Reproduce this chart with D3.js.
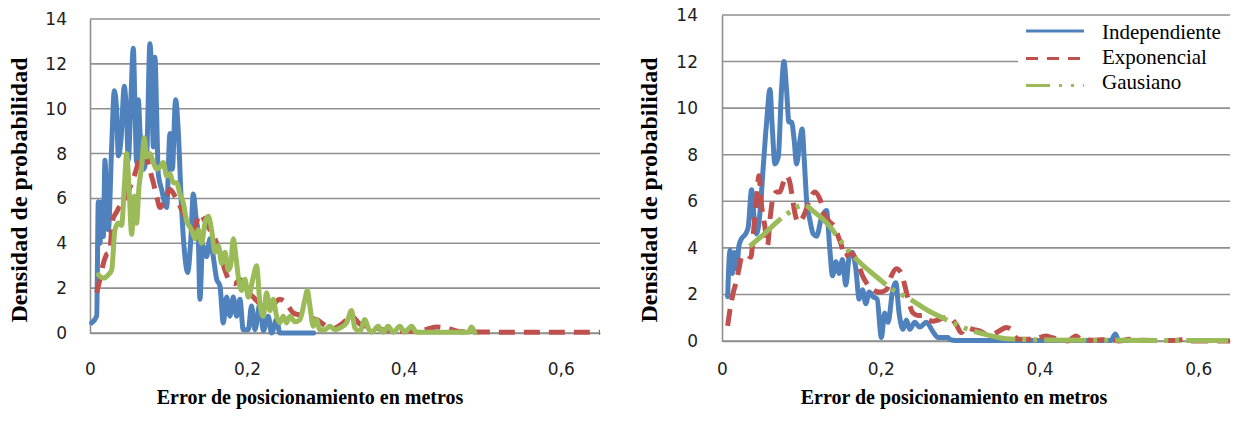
<!DOCTYPE html>
<html>
<head>
<meta charset="utf-8">
<script src="https://cdn.jsdelivr.net/npm/d3@7"></script>
<style>
  body { margin: 0; background: #fff; }
  svg { display: block; }
</style>
</head>
<body>
<svg id="chart" width="1255" height="421"></svg>
<script>
// ticks
const yTicks = [0, 2, 4, 6, 8, 10, 12, 14];
const xTicks = [0, 0.2, 0.4, 0.6];
const xTickLabels = ['0', '0,2', '0,4', '0,6'];

const seriesNames = ['Independiente', 'Exponencial', 'Gausiano'];
const yTitle = 'Densidad de probabilidad';
const xTitle = 'Error de posicionamiento en metros';

// left panel  [error (m), densidad]
const izqIndependiente = [[0.002,0.45],[0.0085,0.75],[0.0106,5.85],[0.0127,4.0],[0.0149,5.85],[0.017,4.3],[0.0191,7.7],[0.0212,5.8],[0.0234,4.6],[0.0276,8.3],[0.031,10.8],[0.034,9.9],[0.0361,7.9],[0.0395,8.6],[0.0437,11.0],[0.0467,9.6],[0.0488,7.7],[0.0522,10.5],[0.0552,12.7],[0.0573,10.1],[0.0594,7.6],[0.0616,10.4],[0.0637,9.0],[0.0679,7.3],[0.0722,7.9],[0.0764,12.9],[0.0786,11.3],[0.0807,8.3],[0.0828,12.3],[0.0849,9.8],[0.087,7.1],[0.0913,6.4],[0.0977,5.6],[0.1019,8.9],[0.1049,7.3],[0.1091,10.4],[0.1125,9.0],[0.1168,5.5],[0.121,3.4],[0.1244,2.7],[0.1287,4.3],[0.1316,6.2],[0.135,5.2],[0.138,4.3],[0.1401,1.5],[0.1435,3.9],[0.1486,3.4],[0.1529,4.2],[0.1571,3.4],[0.1614,2.4],[0.1656,2.1],[0.1699,0.45],[0.1741,1.6],[0.1783,0.75],[0.1826,1.6],[0.1868,0.75],[0.1911,1.5],[0.1953,0.15],[0.2017,0.15],[0.2059,1.2],[0.2102,0.15],[0.2166,1.3],[0.2208,0.1],[0.2272,0.75],[0.2314,0],[0.2378,0.6],[0.242,0],[0.285,0]];
const izqExponencial = [[0.0085,1.8],[0.0127,2.4],[0.017,3.1],[0.0212,3.5],[0.025,3.6],[0.0285,5.0],[0.034,5.4],[0.0403,5.8],[0.0467,6.1],[0.051,6.5],[0.0573,7.1],[0.0616,7.6],[0.0679,8.1],[0.0722,7.85],[0.0764,7.26],[0.0807,6.7],[0.0849,6.1],[0.0892,5.6],[0.0955,5.9],[0.1019,6.4],[0.1083,6.1],[0.1168,5.5],[0.1253,4.9],[0.1316,4.6],[0.1401,5.3],[0.1465,5.0],[0.1529,4.6],[0.1592,4.2],[0.1656,3.6],[0.172,2.8],[0.1783,2.3],[0.1847,2.2],[0.1911,2.4],[0.1996,1.9],[0.2081,1.6],[0.2166,1.3],[0.2251,1.2],[0.2335,1.3],[0.242,1.5],[0.2505,1.3],[0.259,0.9],[0.2675,0.8],[0.276,0.7],[0.2887,0.6],[0.3015,0.3],[0.31,0.2],[0.3227,0.45],[0.3333,0.75],[0.3439,0.4],[0.3567,0.27],[0.3737,0.15],[0.3949,0.08],[0.4119,0.08],[0.4246,0.12],[0.4416,0.27],[0.4586,0.18],[0.4713,0.06],[0.4883,0.05],[0.55,0.03],[0.65,0.03]];
const izqGausiano = [[0.0106,2.6],[0.017,2.45],[0.0234,2.6],[0.0276,2.8],[0.0318,4.6],[0.0361,4.9],[0.0403,4.8],[0.0437,6.5],[0.0467,8.0],[0.0497,6.5],[0.0531,4.4],[0.0565,6.1],[0.0594,4.9],[0.0624,6.5],[0.0658,7.4],[0.0692,8.7],[0.0722,7.85],[0.0764,8.0],[0.0807,7.6],[0.0849,7.3],[0.0892,7.4],[0.0934,7.6],[0.0977,7.0],[0.1019,7.1],[0.1062,6.7],[0.1104,6.7],[0.1147,6.2],[0.1189,5.8],[0.1231,5.0],[0.1295,4.6],[0.1338,4.2],[0.138,4.6],[0.1423,4.0],[0.1465,4.9],[0.1507,5.2],[0.155,4.6],[0.1592,3.6],[0.1635,3.9],[0.1677,3.1],[0.172,3.6],[0.1762,2.8],[0.1792,3.0],[0.1826,4.2],[0.186,3.4],[0.189,2.5],[0.1932,1.9],[0.1975,2.4],[0.2017,1.6],[0.2081,2.5],[0.2123,3.0],[0.2166,1.3],[0.2208,0.75],[0.2251,1.8],[0.2293,1.0],[0.2335,1.5],[0.2378,0.75],[0.242,0.45],[0.2463,0.75],[0.2505,0.45],[0.2548,0.75],[0.2611,0.5],[0.2675,0.6],[0.2739,1.5],[0.277,1.9],[0.2803,1.2],[0.2845,0.3],[0.2887,0.6],[0.293,0.15],[0.2994,0.15],[0.3057,0.3],[0.3121,0.15],[0.3185,0.22],[0.327,0.45],[0.3333,1.0],[0.3376,0.22],[0.3439,0.08],[0.3503,0.6],[0.3546,0.22],[0.3588,0.03],[0.3673,0.3],[0.3737,0.03],[0.38,0.3],[0.3864,0.03],[0.3949,0.3],[0.4013,0.03],[0.4098,0.3],[0.4161,0.03],[0.482,0.03],[0.4862,0.27],[0.4904,0.03]];

// right panel
const derIndependiente = [[0.0071,1.9],[0.0101,3.9],[0.013,2.9],[0.0155,3.8],[0.0184,3.1],[0.0214,4.1],[0.0247,4.4],[0.0298,4.6],[0.0331,4.9],[0.0373,6.5],[0.0407,5.2],[0.0436,4.6],[0.0478,5.5],[0.052,7.5],[0.0562,9.4],[0.0604,10.8],[0.0633,9.2],[0.0667,7.6],[0.0709,7.9],[0.075,10.8],[0.078,12.0],[0.0813,10.8],[0.0843,9.4],[0.0876,9.4],[0.091,8.6],[0.0939,7.6],[0.0981,8.6],[0.101,9.1],[0.1036,7.8],[0.1065,6.1],[0.1107,5.2],[0.1149,4.6],[0.1191,4.5],[0.1254,5.3],[0.1317,5.6],[0.1359,3.9],[0.1392,2.8],[0.1434,3.4],[0.1476,2.9],[0.1518,3.5],[0.156,2.4],[0.1602,3.6],[0.1644,3.8],[0.1686,3.1],[0.1728,1.8],[0.177,2.2],[0.1812,1.6],[0.1854,2.1],[0.1904,1.9],[0.1954,1.8],[0.2008,0.15],[0.205,1.2],[0.2092,0.8],[0.2147,2.1],[0.2189,2.5],[0.2231,1.2],[0.2281,0.5],[0.2323,0.9],[0.2365,0.5],[0.2428,0.8],[0.2491,0.6],[0.2574,0.8],[0.2658,0.4],[0.2721,0.15],[0.2847,0.15],[0.2868,0.07],[0.295,0.02],[0.49,0.02],[0.4955,0.3],[0.5,0.02],[0.51,0.02]];
const derExponencial = [[0.0071,0.65],[0.0101,1.35],[0.0143,2.1],[0.0184,2.6],[0.0214,3.1],[0.0247,3.6],[0.031,3.7],[0.0365,3.6],[0.0394,4.6],[0.0436,6.1],[0.0465,7.1],[0.0499,5.8],[0.0541,4.9],[0.0574,4.1],[0.0604,5.2],[0.0646,6.2],[0.0688,6.4],[0.073,6.4],[0.0772,6.8],[0.0813,7.1],[0.0855,6.8],[0.0885,6.2],[0.0918,5.5],[0.096,5.1],[0.1002,5.2],[0.1044,5.5],[0.1107,6.1],[0.117,6.4],[0.1233,6.1],[0.1296,5.4],[0.1359,5.1],[0.1421,4.9],[0.1463,4.5],[0.1505,4.1],[0.1547,3.6],[0.161,3.8],[0.1673,3.6],[0.1728,3.2],[0.177,2.8],[0.182,2.5],[0.1904,2.2],[0.1988,2.1],[0.2071,2.2],[0.2134,2.8],[0.2197,3.1],[0.226,2.9],[0.2302,2.4],[0.2344,1.8],[0.2407,1.2],[0.2469,1.1],[0.2532,1.1],[0.2595,0.9],[0.2658,0.85],[0.2721,0.9],[0.2805,1.0],[0.2868,1.0],[0.2952,0.7],[0.3014,0.36],[0.3077,0.58],[0.3161,0.5],[0.3245,0.44],[0.3329,0.3],[0.3413,0.3],[0.3497,0.44],[0.3581,0.58],[0.3643,0.5],[0.3685,0.22],[0.3748,0.07],[0.3916,0.07],[0.4084,0.22],[0.4147,0.15],[0.4252,0.07],[0.4357,0.0],[0.4461,0.22],[0.4524,0.07],[0.4713,0.03],[0.4839,0.07],[0.5006,0.0],[0.5132,0.07],[0.5216,0.03],[0.5677,0.02],[0.5845,0.07],[0.5929,0.0],[0.64,0.0]];
const derGausiano = [[0.035,4.07],[0.05,4.5],[0.065,4.98],[0.075,5.28],[0.088,5.6],[0.096,5.78],[0.104,5.84],[0.114,5.6],[0.125,5.3],[0.135,4.95],[0.148,4.36],[0.16,3.85],[0.174,3.36],[0.195,2.75],[0.215,2.2],[0.234,1.86],[0.26,1.3],[0.287,0.85],[0.31,0.5],[0.33,0.3],[0.358,0.1],[0.4,0.05],[0.5,0.03],[0.64,0.02]];

const colors = ['#4f81bd', '#c0504d', '#9bbb59'];
const gridColor = '#8f8f8f';

const svg = d3.select('#chart');
svg.append('rect').attr('width', 1255).attr('height', 421).attr('fill', '#fff');

function drawPanel(p) {
    const x = d3.scaleLinear().domain([0, p.xMax]).range([p.left, p.right]);
    const y = d3.scaleLinear().domain([0, 14]).range([p.bottom, p.top]);
    const g = svg.append('g');

    // horizontal grid
    g.selectAll('.grid')
        .data(yTicks)
        .join('line')
        .attr('class', 'grid')
        .attr('x1', p.left).attr('x2', p.right)
        .attr('y1', d => y(d)).attr('y2', d => y(d))
        .attr('stroke', gridColor)
        .attr('stroke-width', 1.6);

    const yAxis = g.append('g')
        .attr('transform', `translate(${p.left},0)`)
        .call(d3.axisLeft(y).tickValues(yTicks).tickSize(0).tickSizeOuter(0).tickPadding(p.left - p.yLabelRight));
    const xAxis = g.append('g')
        .attr('transform', `translate(0,${p.bottom})`)
        .call(d3.axisBottom(x).tickValues(xTicks).tickFormat((d, i) => xTickLabels[i])
            .tickSize(0).tickSizeOuter(0).tickPadding(p.xLabelPad));

    [yAxis, xAxis].forEach(a => {
        a.select('.domain').attr('stroke', gridColor).attr('stroke-width', 1.6);
        a.selectAll('text')
            .attr('fill', '#1e1e1e')
            .style('font-family', '"DejaVu Sans", sans-serif')
            .style('font-size', '17px');
    });

    if (p.legend) {
        g.append('rect')
            .attr('x', 1018).attr('y', 21)
            .attr('width', 214).attr('height', 75)
            .attr('fill', '#fff');
    }

    const line = d3.line()
        .x(d => x(d[0]))
        .y(d => y(d[1]))
        .curve(d3.curveMonotoneX);

    p.series.forEach((s, i) => {
        g.append('path')
            .datum(s)
            .attr('d', line)
            .attr('fill', 'none')
            .attr('stroke', colors[i])
            .attr('stroke-width', 5)
            .attr('stroke-linejoin', 'round')
            .attr('stroke-linecap', p.dashes[i] ? 'butt' : 'round')
            .attr('stroke-dasharray', p.dashes[i]);
    });

    // titles
    g.append('text')
        .attr('transform', `translate(${p.yTitleX},${p.yTitleY}) rotate(-90)`)
        .attr('text-anchor', 'middle')
        .style('font-family', '"Liberation Serif", serif')
        .style('font-weight', 'bold')
        .style('font-size', '24px')
        .text(yTitle);
    g.append('text')
        .attr('x', p.xTitleX).attr('y', 404)
        .attr('text-anchor', 'middle')
        .style('font-family', '"Liberation Serif", serif')
        .style('font-weight', 'bold')
        .style('font-size', '20px')
        .text(xTitle);

    if (p.legend) {
        const dashes = [null, '12 9', '24 9 3 9 3 9'];
        const lineY = [31, 58.5, 85.5];
        const textY = [39, 64, 89];
        seriesNames.forEach((name, i) => {
            g.append('line')
                .attr('x1', 1026).attr('x2', 1084)
                .attr('y1', lineY[i]).attr('y2', lineY[i])
                .attr('stroke', colors[i])
                .attr('stroke-width', 3)
                .attr('stroke-dasharray', dashes[i]);
            g.append('text')
                .attr('x', 1102).attr('y', textY[i])
                .style('font-family', '"Liberation Serif", serif')
                .style('font-size', '21px')
                .text(name);
        });
    }
}

drawPanel({
    left: 90, right: 600, top: 19, bottom: 333, xMax: 0.65,
    yLabelRight: 67, xLabelPad: 30,
    yTitleX: 27, yTitleY: 190, xTitleX: 310,
    series: [izqIndependiente, izqExponencial, izqGausiano],
    dashes: [null, '16 9', null],
    legend: false
});

drawPanel({
    left: 722, right: 1230, top: 15, bottom: 341, xMax: 0.64,
    yLabelRight: 698, xLabelPad: 22,
    yTitleX: 657, yTitleY: 190, xTitleX: 954,
    series: [derIndependiente, derExponencial, derGausiano],
    dashes: [null, '17 9', '42 7 4 7 4 7'],
    legend: true
});
</script>
</body>
</html>
